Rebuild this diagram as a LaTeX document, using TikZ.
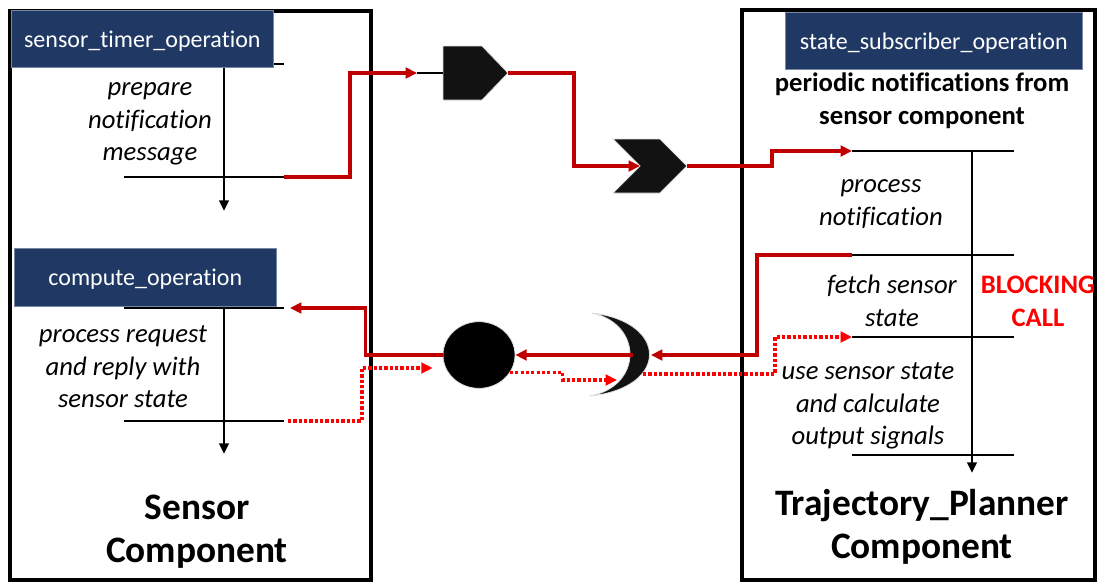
\documentclass[tikz,border=0pt]{standalone}
\usepackage{fontspec}
\setmainfont{Carlito}[Ligatures=CommonOff]
\usetikzlibrary{arrows.meta,shapes.geometric}
\definecolor{opblue}{HTML}{203864}
\definecolor{sigred}{HTML}{C00000}

\begin{document}
\begin{tikzpicture}[x=0.75pt,y=-0.75pt,  % 以像素为单位
    compbox/.style={line width=2.6pt},
    bar/.style={line width=2.2pt},
    flow/.style={line width=2pt,-{Triangle[length=8pt,width=7pt]}},
    sig/.style={sigred,line width=2.3pt,-{Triangle[length=8.5pt,width=8pt]}},
    rep/.style={red,line width=2.3pt,dash pattern=on 2.4pt off 1.6pt,-{Triangle[length=8.5pt,width=8pt]}},
    shp/.style={fill=black!93,draw=gray!25,line width=0.6pt},
    op/.style={fill=opblue,draw=opblue!60!white,line width=0.5pt,text=white,inner sep=0pt,anchor=north west,text depth=0pt,font=\fontsize{18}{22}\selectfont},
    lbl/.style={align=center,font=\itshape\fontsize{20}{24.4}\selectfont},
    ttl/.style={align=center,font=\bfseries\fontsize{28}{32.3}\selectfont},
    sub/.style={align=center,font=\bfseries\fontsize{20}{24.8}\selectfont}]

    \useasboundingbox (0,0) rectangle (1097,582);

    % 两个组件的外框
    \draw[compbox] (10,11) rectangle (371,580); % Sensor
    \draw[compbox] (742,10) rectangle (1095,580); % Trajectory_Planner

    % Sensor 组件中的横线
    \coordinate (t1) at (284,64);
    \coordinate (t2) at (284,177);
    \coordinate (c1) at (284,308);
    \coordinate (c2) at (284,421);
    \draw[bar] (124,64) -- (t1);
    \draw[bar] (124,177) -- (t2);
    \draw[bar] (124,308) -- (c1);
    \draw[bar] (124,421) -- (c2);
    \draw[flow] (224,64) -- (224,211); % 时间轴
    \draw[flow] (224,308) -- (224,454); % 时间轴

    % 操作名称
    \node[op,minimum width=196.5pt,minimum height=42.75pt] (timer) at (11,10) {sensor\_timer\_operation};
    \node[op,minimum width=196.5pt,minimum height=43.5pt] (compute) at (14,248) {compute\_operation};
    \node[op,minimum width=222.75pt,minimum height=42.75pt] (subscr) at (785,12) {state\_subscriber\_operation};

    % Sensor 组件中的文字
    \node[lbl] (prep) at (150,124) {prepare\\notification\\message};
    \node[lbl] (proc) at (123,367) {process request\\and reply with\\sensor state};
    \node[ttl] (sensor) at (197,532) {Sensor\\Component};

    % Trajectory_Planner 组件中的横线
    \coordinate (s1) at (852,151);
    \coordinate (s2) at (852,255);
    \coordinate (s3) at (852,337);
    \draw[bar] (s1) -- (1014,151);
    \draw[bar] (s2) -- (1014,255);
    \draw[bar] (s3) -- (1014,337);
    \draw[bar] (852,455) -- (1014,455);
    \draw[flow] (972,151) -- (972,473); % 时间轴

    % Trajectory_Planner 组件中的文字
    \node[sub] (period) at (922,101) {periodic notifications from\\sensor component};
    \node[lbl] (pnotif) at (881,204) {process\\notification};
    \node[lbl] (fetch) at (892,301) {fetch sensor\\state};
    \node[lbl] (usest) at (868,406) {use sensor state\\and calculate\\output signals};
    \node[sub,text=red] (block) at (1038,301) {BLOCKING\\CALL};
    \node[ttl] (planner) at (922,527) {Trajectory\_Planner\\Component};

    % 发布端口(五边形)
    \filldraw[shp] (443,46) -- (482,46) -- (508,73) -- (482,100) -- (443,100) -- cycle;
    \coordinate (pubin) at (443,73);
    \coordinate (pubtip) at (417,73);
    \coordinate (pubout) at (508,73);

    % 订阅端口(箭头形)
    \filldraw[shp] (613,139) -- (660,139) -- (687,166) -- (660,193) -- (613,193) -- (640,166) -- cycle;
    \coordinate (subin) at (640,166);
    \coordinate (subout) at (687,166);

    % 服务端口(圆)
    \node[ellipse,fill=black,draw=gray!25,line width=0.6pt,minimum width=54pt,minimum height=50pt,inner sep=0pt] (srv) at (479,355) {};

    % 客户端口(月牙)
    \filldraw[shp] (592,313) .. controls (669,322) and (669,388) .. (590,396)
        .. controls (643,386) and (643,324) .. cycle;
    \coordinate (clin) at (651,355);
    \coordinate (clout) at (633,355);
    \coordinate (clrep) at (617,380);
    \coordinate (clfwd) at (643,374);

    % 周期通知
    \draw[bar] (pubtip) -- (pubin);
    \draw[sig] (t2) -- ++(66,0) |- (pubtip);
    \draw[sig] (pubout) -- ++(66,0) |- (subin);
    \draw[sig] (subout) -- ++(85,0) |- (s1);

    % 阻塞调用
    \draw[sig] (s2) -- ++(-95,0) |- (clin);
    \draw[sig] (clout) -- (srv.east);
    \draw[sig] (srv.west) -- ++(-77,0) |- ([xshift=4.5pt]c1);

    % 回复
    \draw[rep] ([xshift=3pt]c2) -- ++(74,0) |- ([xshift=-7.5pt]srv.west |- 0,368);
    \draw[rep] (srv.-30) -- ++(53,0) |- (clrep);
    \draw[rep] (clfwd) -- ++(132,0) |- (s3);

\end{tikzpicture}
\end{document}
